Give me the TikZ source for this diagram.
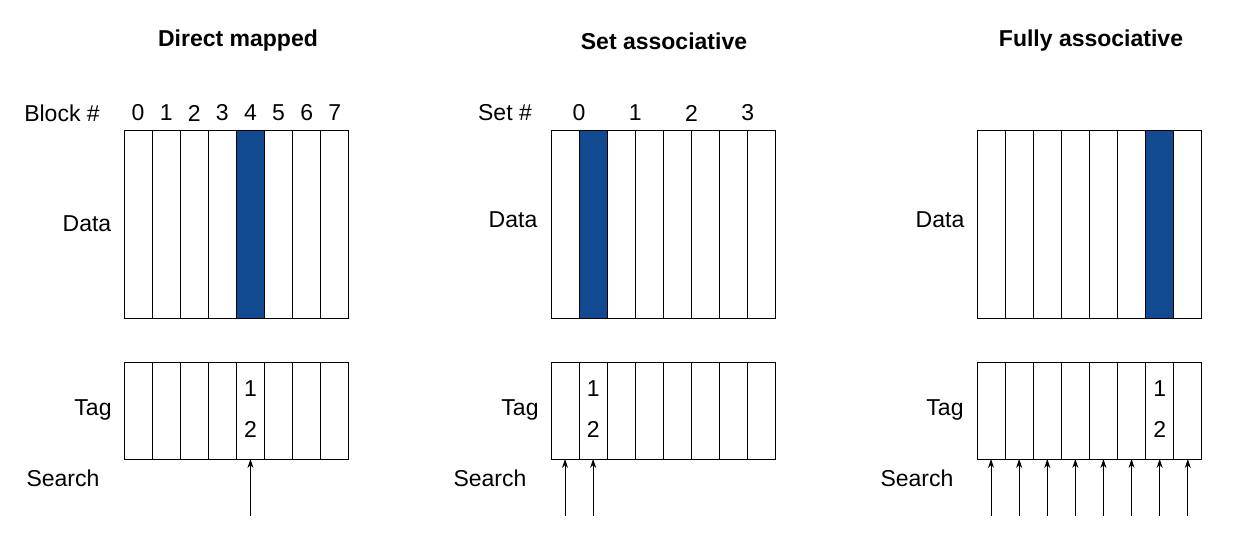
\documentclass[tikz,border=0pt]{standalone}
\usepackage{fontspec}
\setmainfont{Liberation Sans}
\usetikzlibrary{arrows.meta}
\definecolor{blk}{RGB}{18,74,145}
\begin{document}
\begin{tikzpicture}[x=1pt,y=-1pt,
  cell/.style={draw,line width=1pt},
  lbl/.style={font=\fontsize{23}{27}\selectfont,inner sep=0},
  ttl/.style={font=\fontsize{23}{27}\selectfont\bfseries,inner sep=0},
  arr/.style={-{Stealth[length=9pt,width=6pt]},line width=0.9pt}]
\useasboundingbox (0,0) rectangle (1236,534);
\def\w{28.1}
% x0, blue column, tag column, arrows list
\foreach \x/\b/\n in {124/4/a,551/1/b,977/6/c}{
  \foreach \i in {0,...,7}{
    \pgfmathsetmacro\xl{\x+\i*\w}
    \pgfmathsetmacro\xr{\x+(\i+1)*\w}
    \ifnum\i=\b
      \draw[cell,fill=blk] (\xl,131) rectangle (\xr,319);
    \else
      \draw[cell] (\xl,131) rectangle (\xr,319);
    \fi
    \draw[cell] (\xl,362) rectangle (\xr,459);
    \coordinate (\n t\i) at ({(\xl+\xr)/2},459);
    \coordinate (\n s\i) at ({(\xl+\xr)/2},516);
  }
  \pgfmathsetmacro\xt{\x+(\b+0.5)*\w}
  \node[lbl] (\n one) at (\xt,389) {1};
  \node[lbl] (\n two) at (\xt,429) {2};
}
% titles
\node[ttl] (t1) at (238,41) {Direct mapped};
\node[ttl] (t2) at (664,41) {Set associative};
\node[ttl] (t3) at (1091,41) {Fully associative};
% direct mapped labels
\node[lbl] (blk) at (62,113) {Block \#};
\foreach \i in {0,...,7}{\node[lbl] (bn\i) at ({124+(\i+0.5)*\w},113) {\i};}
\node[lbl] (set) at (505,113) {Set \#};
\foreach \i in {0,...,3}{\node[lbl] (sn\i) at ({551+(2*\i+1)*\w},113) {\i};}
\node[lbl] (d1) at (87,224) {Data};
\node[lbl] (d2) at (513,220) {Data};
\node[lbl] (d3) at (940,220) {Data};
\node[lbl] (g1) at (93,410) {Tag};
\node[lbl] (g2) at (520,410) {Tag};
\node[lbl] (g3) at (945,410) {Tag};
\node[lbl] (s1) at (63,478) {Search};
\node[lbl] (s2) at (490,478) {Search};
\node[lbl] (s3) at (917,478) {Search};
% arrows
\draw[arr] (as4) -- (at4);
\draw[arr] (bs0) -- (bt0);
\draw[arr] (bs1) -- (bt1);
\foreach \i in {0,...,7}{\draw[arr] (cs\i) -- (ct\i);}
\end{tikzpicture}
\end{document}
